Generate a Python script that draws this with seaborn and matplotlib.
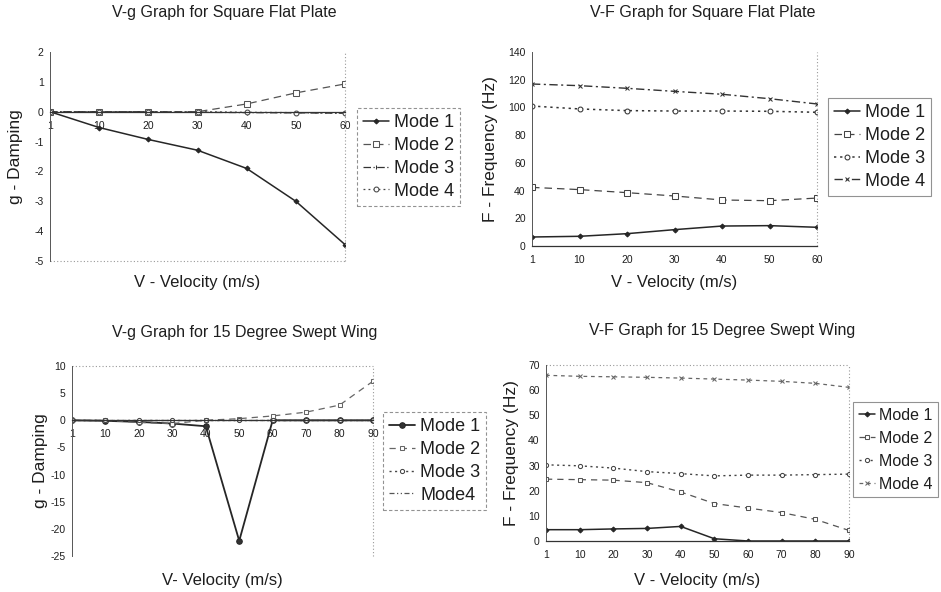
import numpy as np
import pandas as pd
import matplotlib
matplotlib.use("Agg")
import matplotlib.pyplot as plt
import seaborn as sns

# ---------------- data ----------------
v_plate = ["1", "10", "20", "30", "40", "50", "60"]
g_plate_m1 = [0.0, -0.53, -0.93, -1.29, -1.90, -3.00, -4.45]
g_plate_m2 = [0.0, 0.0, 0.0, 0.0, 0.26, 0.63, 0.93]
g_plate_m3 = [0.0, 0.0, 0.0, -0.02, -0.03, -0.04, -0.05]
g_plate_m4 = [0.0, 0.0, 0.0, 0.0, -0.02, -0.03, -0.05]

f_plate_m1 = [6.5, 7.0, 8.9, 11.8, 14.4, 14.7, 13.5]
f_plate_m2 = [42.3, 40.7, 38.5, 36.1, 33.2, 32.7, 34.6]
f_plate_m3 = [101.0, 98.9, 97.7, 97.4, 97.4, 97.2, 96.5]
f_plate_m4 = [116.9, 115.7, 113.8, 111.6, 109.5, 106.3, 102.5]

v_wing = ["1", "10", "20", "30", "40", "50", "60", "70", "80", "90"]
g_wing_m1 = [0.0, -0.1, -0.3, -0.6, -1.1, -22.2, 0.0, 0.0, 0.0, 0.0]
g_wing_m2 = [0.0, 0.0, -0.4, -0.6, 0.0, 0.3, 0.8, 1.5, 2.8, 7.2]
g_wing_m3 = [0.0, 0.0, 0.0, 0.0, 0.0, 0.0, 0.0, 0.0, 0.0, 0.0]
g_wing_m4 = [0.0, 0.0, 0.0, 0.0, 0.0, 0.0, 0.0, 0.0, 0.0, 0.0]

f_wing_m1 = [4.5, 4.5, 4.8, 5.0, 5.8, 0.9, 0.0, 0.0, 0.0, 0.0]
f_wing_m2 = [24.6, 24.4, 24.2, 23.2, 19.5, 14.9, 13.1, 11.3, 8.6, 4.2]
f_wing_m3 = [30.3, 29.9, 29.0, 27.6, 26.8, 25.9, 26.2, 26.2, 26.4, 26.6]
f_wing_m4 = [65.9, 65.5, 65.3, 65.1, 64.8, 64.4, 64.0, 63.5, 62.7, 61.1]

labels_std = ["Mode 1", "Mode 2", "Mode 3", "Mode 4"]
labels_wing_g = ["Mode 1", "Mode 2", "Mode 3", "Mode4"]

# ---------------- style ----------------
sns.set_theme(style="white")
plt.rcParams["font.family"] = ["Liberation Sans", "DejaVu Sans"]
TXT = "#1e1e1e"
plt.rcParams["text.color"] = TXT
plt.rcParams["axes.labelcolor"] = TXT
plt.rcParams["xtick.color"] = TXT
plt.rcParams["ytick.color"] = TXT

W, H = 941, 592
fig = plt.figure(figsize=(W / 100, H / 100), dpi=100)
fig.patch.set_facecolor("white")


def px_axes(left, right, top, bottom):
    return fig.add_axes([left / W, 1 - bottom / H, (right - left) / W, (bottom - top) / H])


def draw(ax, cats, series, labels, styles, ylim, yticks, xlabel, ylabel,
         title, title_xy, leg_xy, leg_style, zero_axis, border_sides,
         leg_fs=13, leg_hl=1.4, leg_ls=0.32):
    n = len(cats)
    for vals, lab, st in zip(series, labels, styles):
        df = pd.DataFrame({"pos": np.arange(n), "val": vals})
        sns.lineplot(data=df, x="pos", y="val", ax=ax, label=lab, sort=False,
                     errorbar=None, **st)
    ax.set_xlim(0, n - 1)
    ax.set_ylim(*ylim)
    ax.set_xticks(np.arange(n))
    ax.set_xticklabels(cats)
    ax.set_yticks(yticks)
    ax.set_yticklabels([f"{t:g}" for t in yticks])
    ax.tick_params(axis="both", labelsize=7.5, length=2.5, width=0.6, pad=2,
                   direction="out")
    ax.tick_params(axis="x", pad=4)
    for s in ["top", "right", "bottom", "left"]:
        ax.spines[s].set_visible(False)
    ax.spines["left"].set_visible(True)
    ax.spines["left"].set_color("#555555")
    ax.spines["left"].set_linewidth(0.7)
    ax.spines["bottom"].set_visible(True)
    ax.spines["bottom"].set_color("#333333")
    ax.spines["bottom"].set_linewidth(0.9)
    if zero_axis:
        ax.spines["bottom"].set_position(("data", 0))
    # dotted plot-area border
    y0, y1 = ylim
    for side in border_sides:
        if side == "top":
            ax.plot([0, n - 1], [y1, y1], ls=(0, (1, 2)), color="#999999", lw=0.8,
                    clip_on=False)
        if side == "bottom":
            ax.plot([0, n - 1], [y0, y0], ls=(0, (1, 2)), color="#999999", lw=0.8,
                    clip_on=False)
        if side == "right":
            ax.plot([n - 1, n - 1], [y0, y1], ls=(0, (1, 2)), color="#999999", lw=0.8,
                    clip_on=False)
    ax.set_xlabel("")
    ax.set_ylabel("")
    fig.text(title_xy[0] / W, 1 - title_xy[1] / H, title, ha="center", va="center",
             fontsize=11.5, color=TXT)
    bb = ax.get_position()
    fig.text((bb.x0 + bb.x1) / 2, 1 - xlabel[1] / H, xlabel[0], ha="center",
             va="center", fontsize=12, color=TXT)
    fig.text(ylabel[1] / W, (bb.y0 + bb.y1) / 2, ylabel[0], ha="center",
             va="center", rotation=90, fontsize=12.5, color=TXT)
    leg = ax.legend(loc="upper left", bbox_to_anchor=(leg_xy[0] / W, 1 - leg_xy[1] / H),
                    bbox_transform=fig.transFigure, fontsize=leg_fs, frameon=True,
                    handlelength=leg_hl, handletextpad=0.3, borderpad=0.35,
                    labelspacing=leg_ls, borderaxespad=0, fancybox=False)
    fr = leg.get_frame()
    fr.set_edgecolor("#777777")
    fr.set_linewidth(0.8)
    fr.set_linestyle(leg_style)
    for t in leg.get_texts():
        t.set_color(TXT)


LC = "#262626"
st_plate_g = [
    dict(color=LC, lw=1.1, marker="D", ms=2.5, mec=LC, mfc=LC),
    dict(color="#555555", lw=0.9, ls=(0, (6, 4)), marker="s", ms=4, mec="#555555", mfc="white"),
    dict(color="#333333", lw=0.9, ls=(0, (6, 2, 1, 2)), marker="|", ms=3, mec="#333333"),
    dict(color="#444444", lw=0.9, ls=(0, (1.5, 2.5)), marker="o", ms=3.5, mec="#444444", mfc="white"),
]
st_plate_f = [
    dict(color=LC, lw=1.1, marker="D", ms=2.5, mec=LC, mfc=LC),
    dict(color="#444444", lw=0.9, ls=(0, (6, 4)), marker="s", ms=4, mec="#444444", mfc="white"),
    dict(color="#333333", lw=1.1, ls=(0, (1.5, 2.5)), marker="o", ms=3.5, mec="#333333", mfc="white"),
    dict(color="#333333", lw=1.0, ls=(0, (6, 2.5, 1.5, 2.5)), marker="x", ms=3.5, mec="#333333"),
]
st_wing_g = [
    dict(color=LC, lw=1.3, marker="o", ms=4, mec=LC, mfc="#333333"),
    dict(color="#666666", lw=0.9, ls=(0, (5, 4)), marker="s", ms=3, mec="#666666", mfc="white"),
    dict(color="#444444", lw=1.0, ls=(0, (1.5, 2.5)), marker="o", ms=3, mec="#444444", mfc="white"),
    dict(color="#555555", lw=0.9, ls=(0, (4, 2, 1, 2, 1, 2))),
]
st_wing_f = [
    dict(color=LC, lw=1.1, marker="D", ms=2.5, mec=LC, mfc=LC),
    dict(color="#555555", lw=0.9, ls=(0, (5, 4)), marker="s", ms=3.5, mec="#555555", mfc="white"),
    dict(color="#444444", lw=1.0, ls=(0, (1.5, 2.5)), marker="o", ms=3, mec="#444444", mfc="white"),
    dict(color="#666666", lw=0.9, ls=(0, (3, 3)), marker="x", ms=3, mec="#666666"),
]

ax1 = px_axes(50, 345, 52, 261)
draw(ax1, v_plate, [g_plate_m1, g_plate_m2, g_plate_m3, g_plate_m4], labels_std,
     st_plate_g, (-5, 2), [-5, -4, -3, -2, -1, 0, 1, 2],
     ("V - Velocity (m/s)", 283), ("g - Damping", 16),
     "V-g Graph for Square Flat Plate", (224, 13), (357, 108), (0, (3, 2)),
     True, ["bottom", "right"])

ax2 = px_axes(532, 817, 52, 246)
draw(ax2, v_plate, [f_plate_m1, f_plate_m2, f_plate_m3, f_plate_m4], labels_std,
     st_plate_f, (0, 140), [0, 20, 40, 60, 80, 100, 120, 140],
     ("V - Velocity (m/s)", 283), ("F - Frequency (Hz)", 490),
     "V-F Graph for Square Flat Plate", (703, 13), (828, 98), "solid",
     False, ["right"])

ax3 = px_axes(72, 373, 366, 556)
draw(ax3, v_wing, [g_wing_m1, g_wing_m2, g_wing_m3, g_wing_m4], labels_wing_g,
     st_wing_g, (-25, 10), [-25, -20, -15, -10, -5, 0, 5, 10],
     ("V- Velocity (m/s)", 580), ("g - Damping", 40),
     "V-g Graph for 15 Degree Swept Wing", (245, 332), (383, 412), (0, (3, 2)),
     True, ["top", "right"])

ax4 = px_axes(546, 849, 365, 541)
draw(ax4, v_wing, [f_wing_m1, f_wing_m2, f_wing_m3, f_wing_m4], labels_std,
     st_wing_f, (0, 70), [0, 10, 20, 30, 40, 50, 60, 70],
     ("V - Velocity (m/s)", 580), ("F - Frequency (Hz)", 512),
     "V-F Graph for 15 Degree Swept Wing", (722, 330), (853, 402), "solid",
     False, ["top", "right"], leg_fs=11.5, leg_hl=1.0, leg_ls=0.5)

fig.savefig("out.png", dpi=100, facecolor="white")
